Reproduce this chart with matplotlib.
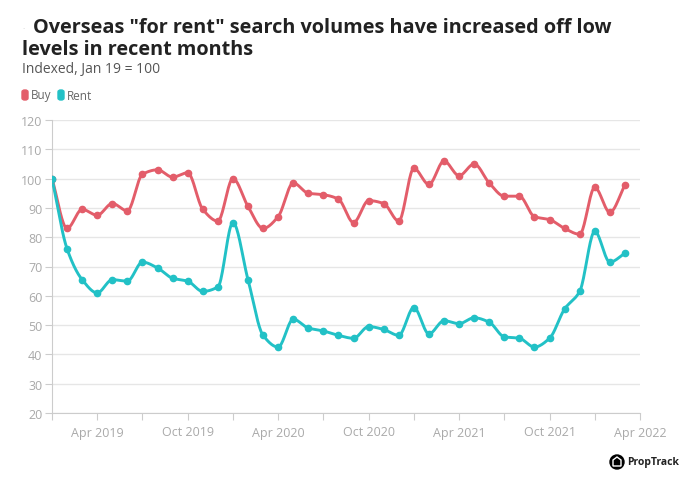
import numpy as np
import matplotlib
matplotlib.use("Agg")
import matplotlib.pyplot as plt
from matplotlib.patches import FancyBboxPatch, Circle, Polygon

plt.rcParams['font.family'] = ['Open Sans', 'DejaVu Sans']

months = ['Jan 2019', 'Feb 2019', 'Mar 2019', 'Apr 2019', 'May 2019', 'Jun 2019',
          'Jul 2019', 'Aug 2019', 'Sep 2019', 'Oct 2019', 'Nov 2019', 'Dec 2019',
          'Jan 2020', 'Feb 2020', 'Mar 2020', 'Apr 2020', 'May 2020', 'Jun 2020',
          'Jul 2020', 'Aug 2020', 'Sep 2020', 'Oct 2020', 'Nov 2020', 'Dec 2020',
          'Jan 2021', 'Feb 2021', 'Mar 2021', 'Apr 2021', 'May 2021', 'Jun 2021',
          'Jul 2021', 'Aug 2021', 'Sep 2021', 'Oct 2021', 'Nov 2021', 'Dec 2021',
          'Jan 2022', 'Feb 2022', 'Mar 2022']
buy = [100, 83, 89.5, 87.5, 91.5, 89, 101.5, 103, 100.5, 102, 89.5, 85.5,
       100, 90.5, 83, 87, 98.5, 95, 94.5, 93, 85, 92.5, 91.5, 85.5,
       103.5, 98, 106, 101, 105, 98.5, 94, 94, 87, 86, 83, 81,
       97, 88.5, 97.8]
rent = [100, 76, 65.5, 61, 65.5, 65, 71.5, 69.5, 66, 65, 61.5, 63,
        85, 65.5, 46.5, 42.5, 52, 49, 48, 46.5, 45.5, 49.5, 48.5, 46.5,
        56, 47, 51.5, 50.5, 52.5, 51, 46, 45.5, 42.5, 45.5, 55.5, 61.5,
        82, 71.5, 74.5]
tick_labels = ['Apr 2019', 'Oct 2019', 'Apr 2020', 'Oct 2020', 'Apr 2021',
               'Oct 2021', 'Apr 2022']

buy_color = '#e35d6a'
rent_color = '#22c1c6'


def monotone(x, y, n=20):
    # Fritsch-Carlson monotone cubic, only for drawing the curve between points
    x = np.asarray(x, float)
    y = np.asarray(y, float)
    h = np.diff(x)
    d = np.diff(y) / h
    m = np.zeros_like(y)
    m[0], m[-1] = d[0], d[-1]
    for i in range(1, len(y) - 1):
        if d[i - 1] * d[i] <= 0:
            m[i] = 0
        else:
            w1 = 2 * h[i] + h[i - 1]
            w2 = h[i] + 2 * h[i - 1]
            m[i] = (w1 + w2) / (w1 / d[i - 1] + w2 / d[i])
    xs, ys = [], []
    for i in range(len(x) - 1):
        t = np.linspace(0, 1, n, endpoint=False)
        h00 = 2 * t**3 - 3 * t**2 + 1
        h10 = t**3 - 2 * t**2 + t
        h01 = -2 * t**3 + 3 * t**2
        h11 = t**3 - t**2
        xs.append(x[i] + t * h[i])
        ys.append(h00 * y[i] + h10 * h[i] * m[i] + h01 * y[i + 1] + h11 * h[i] * m[i + 1])
    xs.append([x[-1]])
    ys.append([y[-1]])
    return np.concatenate(xs), np.concatenate(ys)


fig = plt.figure(figsize=(6.88, 4.81), dpi=100)
ax = fig.add_axes([52 / 688, 1 - 414 / 481, 588 / 688, 293 / 481])

x = np.arange(len(months))
for vals, col in [(buy, buy_color), (rent, rent_color)]:
    sx, sy = monotone(x, vals)
    ax.plot(sx, sy, color=col, lw=2.1, solid_capstyle='round', zorder=3)
    ax.plot(x, vals, 'o', color=col, ms=4.5, zorder=4)

ax.set_xlim(0, 39)
ax.set_ylim(20, 120)
ax.set_yticks(range(20, 121, 10))
ax.set_xticks(range(0, 40, 3))
ax.set_xticklabels(['' if i % 2 == 0 else tick_labels[i // 2] for i in range(14)])
ax.grid(axis='y', color='#e6e6e6', lw=1)
ax.set_axisbelow(True)
for s in ['top', 'right']:
    ax.spines[s].set_visible(False)
for s in ['left', 'bottom']:
    ax.spines[s].set_color('#cccccc')
ax.tick_params(colors='#cccccc', labelcolor='#a9a9a9', labelsize=9, length=5)
ax.tick_params(axis='x', pad=4)
ax.tick_params(axis='y', pad=2)

fig.text(22 / 688, 1 - 30 / 481, '·', fontsize=6, color='#cccccc', va='center')
fig.text(33 / 688, 1 - 28 / 481, 'Overseas "for rent" search volumes have increased off low',
         fontsize=14.3, fontweight='bold', color='#222222', va='center')
fig.text(22 / 688, 1 - 50 / 481, 'levels in recent months',
         fontsize=14.3, fontweight='bold', color='#222222', va='center')
fig.text(22 / 688, 1 - 70 / 481, 'Indexed, Jan 19 = 100',
         fontsize=10, color='#555555', va='center')

# legend
for lx, col, lab in [(22, buy_color, 'Buy'), (58, rent_color, 'Rent')]:
    fig.patches.append(FancyBboxPatch((lx / 688, 1 - 101 / 481), 6 / 688, 10 / 481,
                                      boxstyle='round,pad=0,rounding_size=0.004',
                                      transform=fig.transFigure, color=col))
    fig.text((lx + 9) / 688, 1 - 96 / 481, lab, fontsize=8.5, color='#666666', va='center')

# PropTrack logo
cy = 1 - 463 / 481
fig.patches.append(Circle((617, 481 - 463), 7, transform=None, color='black'))
fig.patches.append(Polygon([(613, 481 - 467), (621, 481 - 467), (621, 481 - 461),
                            (617, 481 - 458), (613, 481 - 461)], closed=True,
                           transform=None, fc='none', ec='white', lw=1))
fig.text(627 / 688, cy, 'PropTrack', fontsize=7.5, fontweight='bold', color='#222222', va='center')

fig.savefig('out.png', dpi=100)
